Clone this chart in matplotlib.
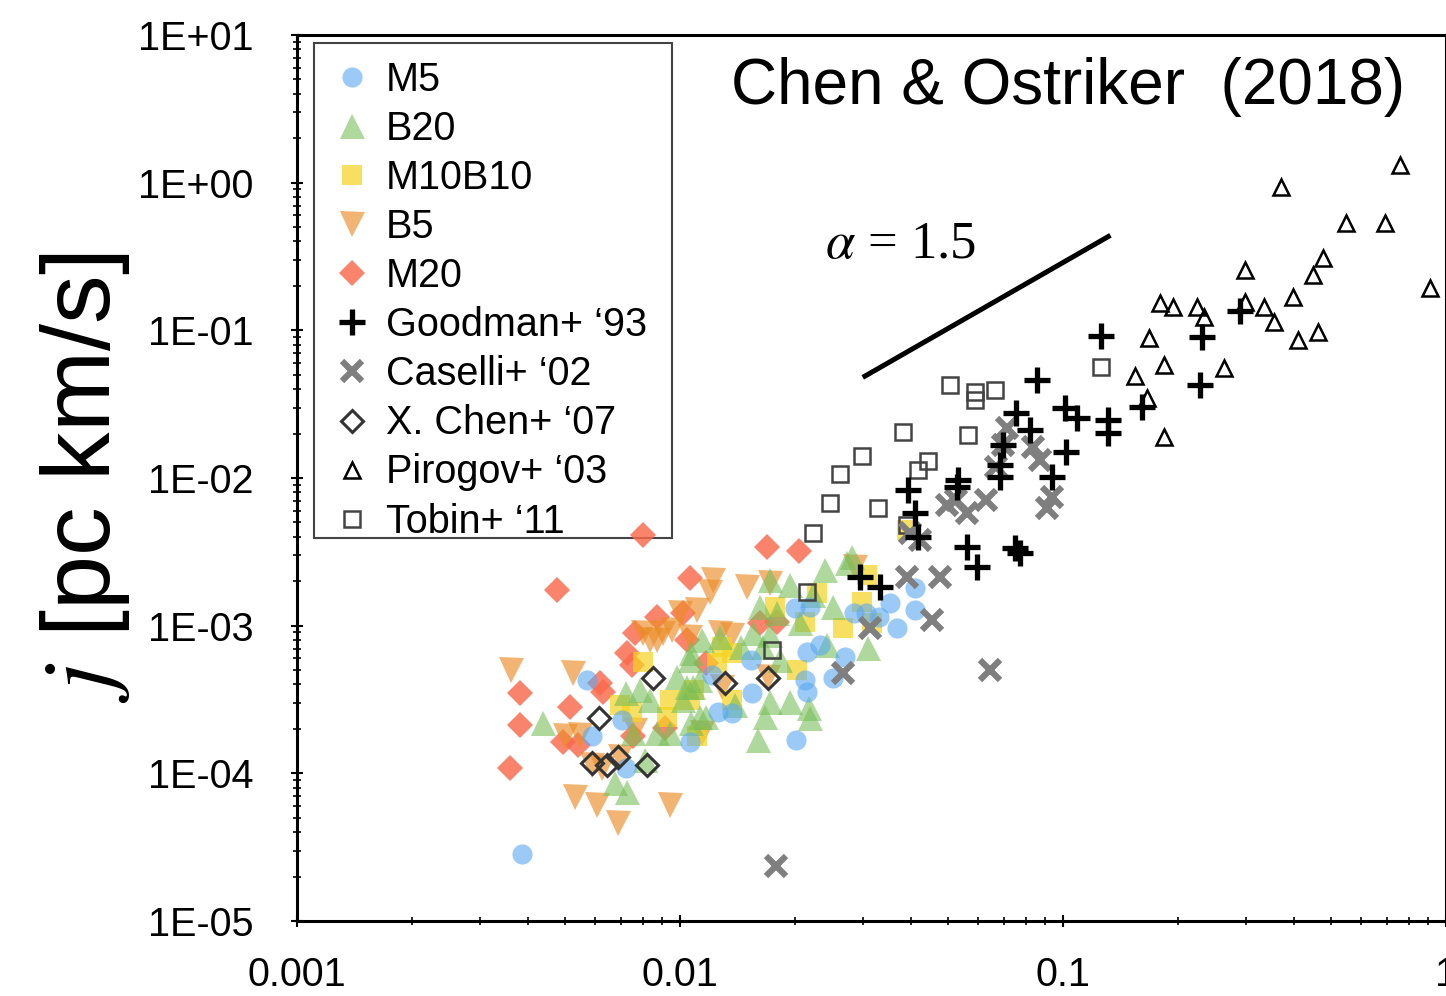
import numpy as np
import matplotlib
matplotlib.use("Agg")
import matplotlib.pyplot as plt
from matplotlib.patches import Rectangle
from matplotlib.ticker import LogLocator, FuncFormatter, NullFormatter, FixedLocator

plt.rcParams['font.family'] = ['Liberation Sans', 'DejaVu Sans']
plt.rcParams['mathtext.fontset'] = 'stix'

# ---------------- data: R [pc] and j [pc km/s] ----------------
m5_r = [0.00386, 0.00571, 0.00588, 0.00706, 0.00722, 0.0106, 0.0121, 0.0126, 0.0137, 0.0153,
        0.0154, 0.0200, 0.0219, 0.0201, 0.0212, 0.0215, 0.0215, 0.0232, 0.0251, 0.0270,
        0.0284, 0.0306, 0.0330, 0.0354, 0.0368, 0.0411, 0.0411]
m5_j = [2.85e-5, 4.30e-4, 1.78e-4, 2.30e-4, 1.08e-4, 1.63e-4, 4.64e-4, 2.61e-4, 2.57e-4, 5.87e-4,
        3.51e-4, 1.32e-3, 1.34e-3, 1.69e-4, 4.30e-4, 3.57e-4, 6.64e-4, 7.41e-4, 4.43e-4, 6.15e-4,
        1.22e-3, 1.22e-3, 1.15e-3, 1.43e-3, 9.7e-4, 1.79e-3, 1.28e-3]

b20_r = [0.00440, 0.00676, 0.00727, 0.00722, 0.00787, 0.00836, 0.00754, 0.00872, 0.00942, 0.00811,
         0.0102, 0.0098, 0.0108, 0.0117, 0.0107, 0.0104, 0.0113, 0.0113, 0.0107, 0.0106,
         0.0114, 0.0127, 0.0144, 0.0155, 0.0162, 0.0165, 0.0172, 0.0172, 0.0179, 0.0182,
         0.0194, 0.0206, 0.0223, 0.0239, 0.0242, 0.0251, 0.0273, 0.0282, 0.0310, 0.0172,
         0.0194, 0.0217, 0.0167, 0.0219, 0.0160, 0.0139]
b20_j = [2.20e-4, 8.61e-5, 7.49e-5, 3.51e-4, 3.68e-4, 3.15e-4, 1.89e-4, 1.89e-4, 1.89e-4, 1.23e-4,
         3.15e-4, 4.5e-4, 3.86e-4, 2.42e-4, 6.54e-4, 3.86e-4, 4.30e-4, 2.42e-4, 2.20e-4, 5.87e-4,
         8.0e-4, 8.4e-4, 7.2e-4, 8.9e-4, 1.34e-3, 7.2e-4, 8.7e-4, 2.04e-3, 1.22e-3, 5.87e-4,
         1.89e-3, 1.04e-3, 1.61e-3, 2.39e-3, 7.4e-4, 1.34e-3, 2.67e-3, 2.92e-3, 7.1e-4, 3.05e-4,
         3.05e-4, 2.78e-4, 2.42e-4, 2.38e-4, 1.69e-4, 2.91e-4]

m10b10_r = [0.00801, 0.00697, 0.00751, 0.00925, 0.00942, 0.0106, 0.0109, 0.0111, 0.0125, 0.0129,
            0.0137, 0.0137, 0.0177, 0.0202, 0.0212, 0.0228, 0.0266, 0.0299, 0.0308, 0.0318, 0.0392]
m10b10_j = [5.70e-4, 2.91e-4, 2.61e-4, 2.42e-4, 3.15e-4, 3.15e-4, 3.68e-4, 1.78e-4, 5.61e-4, 7.2e-4,
            6.54e-4, 3.15e-4, 1.34e-3, 5.02e-4, 1.06e-3, 1.67e-3, 9.7e-4, 1.45e-3, 2.21e-3, 1.04e-3, 4.45e-3]

b5_r = [0.00363, 0.00526, 0.00501, 0.00548, 0.00589, 0.00625, 0.00697, 0.00532, 0.00606, 0.00689,
        0.00942, 0.00763, 0.00801, 0.00836, 0.00872, 0.00903, 0.00954, 0.0100, 0.0106, 0.0111,
        0.0120, 0.0122, 0.0127, 0.0137, 0.0150, 0.0172, 0.0129, 0.0170, 0.0114, 0.0287]
b5_j = [5.02e-4, 4.79e-4, 1.78e-4, 1.83e-4, 1.14e-4, 1.08e-4, 1.29e-4, 6.92e-5, 6.12e-5, 4.63e-5,
        6.12e-5, 1.97e-4, 8.9e-4, 8.0e-4, 8.0e-4, 8.9e-4, 9.4e-4, 1.22e-3, 8.4e-4, 1.28e-3,
        1.69e-3, 2.04e-3, 8.9e-4, 8.7e-4, 1.82e-3, 1.95e-3, 3.86e-4, 4.50e-4, 1.89e-4, 2.50e-3]

m20_r = [0.00801, 0.00478, 0.00360, 0.00382, 0.00382, 0.00516, 0.00630, 0.00495, 0.00541, 0.00726,
         0.00763, 0.00872, 0.0106, 0.0102, 0.0104, 0.0117, 0.00751, 0.00754, 0.00914, 0.0169,
         0.0204, 0.0162, 0.0179, 0.00618]
m20_j = [4.12e-3, 1.75e-3, 1.08e-4, 3.51e-4, 2.13e-4, 2.82e-4, 3.57e-4, 1.63e-4, 1.56e-4, 6.54e-4,
         8.9e-4, 1.15e-3, 2.11e-3, 1.22e-3, 8.0e-4, 5.61e-4, 5.43e-4, 1.78e-4, 2.04e-4, 3.41e-3,
         3.2e-3, 1.04e-3, 1.06e-3, 4.11e-4]

goodman_r = [0.126, 0.230, 0.290, 0.228, 0.161, 0.131, 0.131, 0.109, 0.101, 0.102,
             0.0937, 0.0855, 0.0753, 0.0820, 0.0696, 0.0685, 0.0685, 0.0532, 0.0528, 0.0394,
             0.0411, 0.0417, 0.0561, 0.0596, 0.0749, 0.0772, 0.0295, 0.0333]
goodman_j = [0.0915, 0.090, 0.135, 0.0427, 0.0303, 0.0247, 0.0203, 0.0255, 0.0298, 0.0150,
             0.0101, 0.0462, 0.0275, 0.0212, 0.0168, 0.0122, 0.0101, 0.00971, 0.0087, 0.00831,
             0.00582, 0.00399, 0.00341, 0.00250, 0.00335, 0.00311, 0.00214, 0.00182]

caselli_r = [0.0178, 0.0267, 0.0314, 0.0392, 0.0477, 0.0455, 0.0399, 0.0424, 0.0498, 0.0525,
             0.0561, 0.0630, 0.0668, 0.0714, 0.0696, 0.0835, 0.0871, 0.0937, 0.0908, 0.0644]
caselli_j = [2.35e-5, 4.79e-4, 9.7e-4, 2.14e-3, 2.14e-3, 1.09e-3, 4.25e-3, 3.81e-3, 6.58e-3, 7.11e-3,
             5.82e-3, 7.11e-3, 0.0118, 0.0218, 0.0168, 0.0162, 0.0133, 0.00747, 0.00628, 5.02e-4]

xchen_r = [0.00851, 0.00614, 0.00588, 0.00645, 0.00689, 0.00821, 0.0170, 0.0131]
xchen_j = [4.43e-4, 2.38e-4, 1.17e-4, 1.14e-4, 1.29e-4, 1.14e-4, 4.43e-4, 4.11e-4]

pirogov_r = [0.757, 0.370, 0.547, 0.695, 0.476, 0.450, 0.298, 0.907, 0.179, 0.194,
             0.224, 0.233, 0.298, 0.335, 0.399, 0.356, 0.411, 0.463, 0.168, 0.184,
             0.154, 0.263, 0.166, 0.184]
pirogov_j = [1.32, 0.93, 0.53, 0.53, 0.31, 0.237, 0.256, 0.194, 0.154, 0.145,
             0.144, 0.123, 0.156, 0.144, 0.168, 0.114, 0.0861, 0.098, 0.089, 0.058,
             0.0487, 0.0556, 0.035, 0.019]

tobin_r = [0.0507, 0.0589, 0.0664, 0.0589, 0.0382, 0.0564, 0.0299, 0.0444, 0.0419, 0.0262,
           0.0247, 0.0329, 0.0222, 0.126, 0.0215, 0.0174, 0.0392]
tobin_j = [0.0427, 0.0382, 0.0395, 0.0338, 0.0206, 0.0197, 0.0141, 0.0131, 0.0113, 0.0107,
           0.00680, 0.00628, 0.00425, 0.0567, 0.00169, 6.85e-4, 4.81e-3]

slope_r = [0.030, 0.133]
slope_j = [0.048, 0.44]

x_ticks = [0.001, 0.01, 0.1, 1]
x_ticklabels = ['0.001', '0.01', '0.1', '1']

# ---------------- figure ----------------
fig = plt.figure(figsize=(14.46, 9.96), dpi=100)
ax = fig.add_axes([297 / 1446, 1 - 921 / 996, 1 - 297 / 1446, (921 - 35) / 996])
ax.set_xscale('log')
ax.set_yscale('log')
ax.set_xlim(1e-3, 1)
ax.set_ylim(1e-5, 10)

h = {}
h['M20'], = ax.plot(m20_r, m20_j, 'D', ls='none', ms=13, color=(250/255, 105/255, 75/255),
                    alpha=0.82, mew=0, label='M20')
h['B5'], = ax.plot(b5_r, b5_j, 'v', ls='none', ms=18, color=(235/255, 140/255, 40/255),
                   alpha=0.65, mew=0, label='B5')
h['M10B10'], = ax.plot(m10b10_r, m10b10_j, 's', ls='none', ms=14, color=(245/255, 212/255, 30/255),
                       alpha=0.7, mew=0, label='M10B10')
h['B20'], = ax.plot(b20_r, b20_j, '^', ls='none', ms=18, color=(120/255, 190/255, 90/255),
                    alpha=0.6, mew=0, label='B20')
h['M5'], = ax.plot(m5_r, m5_j, 'o', ls='none', ms=14.5, color=(90/255, 168/255, 240/255),
                   alpha=0.6, mew=0, label='M5')
h['X'], = ax.plot(xchen_r, xchen_j, 'D', ls='none', ms=11, mfc='none', mec='#333333', mew=2.2,
                  label='X. Chen+ \u201807')
h['T'], = ax.plot(tobin_r, tobin_j, 's', ls='none', ms=11, mfc='none', mec='#444444', mew=1.8,
                  label='Tobin+ \u201811')
h['P'], = ax.plot(pirogov_r, pirogov_j, '^', ls='none', ms=11, mfc='none', mec='black', mew=1.8,
                  label='Pirogov+ \u201803')
h['C'], = ax.plot(caselli_r, caselli_j, 'x', ls='none', ms=15, mec='#7f7f7f', mew=4.5,
                  label='Caselli+ \u201802')
h['G'], = ax.plot(goodman_r, goodman_j, '+', ls='none', ms=19, mec='black', mew=3.8,
                  label='Goodman+ \u201893')

ax.plot(slope_r, slope_j, color='black', lw=3.6, solid_capstyle='butt')
ax.text(0.0239, 0.378, r'$\alpha$ = 1.5', fontsize=38, ha='left', va='center',
        family=['Liberation Serif', 'DejaVu Serif'])
ax.text(0.964, 0.975, 'Chen & Ostriker  (2018)', transform=ax.transAxes, fontsize=46,
        ha='right', va='top')

# legend frame drawn as a plain rectangle (tight at the bottom, as in the reference),
# kept beneath the data so that points near its edge stay visible
ax.add_patch(Rectangle((0.0148, 0.4323), 0.3116, 0.991 - 0.4323, transform=ax.transAxes,
                       facecolor='white', edgecolor='#444444', lw=1.5, zorder=0.5))
order = ['M5', 'B20', 'M10B10', 'B5', 'M20', 'G', 'C', 'X', 'P', 'T']
leg = ax.legend([h[k] for k in order], [h[k].get_label() for k in order],
                loc='upper left', bbox_to_anchor=(0.0148, 0.991), borderaxespad=0,
                fontsize=28.5, labelspacing=0.28, handlelength=1.0, handletextpad=0.37,
                borderpad=0.45, frameon=False, markerscale=1.0)
leg.set_zorder(1)

# axes styling
for s in ax.spines.values():
    s.set_linewidth(2.2)
ax.xaxis.set_major_locator(FixedLocator(x_ticks))
ax.xaxis.set_major_formatter(FuncFormatter(lambda v, p: x_ticklabels[x_ticks.index(v)] if v in x_ticks else ''))
ax.xaxis.set_minor_locator(LogLocator(base=10, subs=np.arange(2, 10)))
ax.xaxis.set_minor_formatter(NullFormatter())
ax.yaxis.set_major_locator(LogLocator(base=10, numticks=20))
ax.yaxis.set_major_formatter(FuncFormatter(lambda v, p: '1E%+03d' % int(round(np.log10(v)))))
ax.yaxis.set_minor_locator(LogLocator(base=10, subs=np.arange(2, 10), numticks=20))
ax.yaxis.set_minor_formatter(NullFormatter())
ax.tick_params(which='major', direction='inout', length=9, width=1.5, labelsize=28.5)
ax.tick_params(which='minor', direction='inout', length=6, width=1.2)
ax.tick_params(axis='x', which='major', pad=21)
ax.tick_params(axis='y', which='major', pad=27)

ax.set_ylabel(r'$j$ [pc km/s]', fontsize=70, labelpad=4)

fig.savefig('out.png', dpi=100)
